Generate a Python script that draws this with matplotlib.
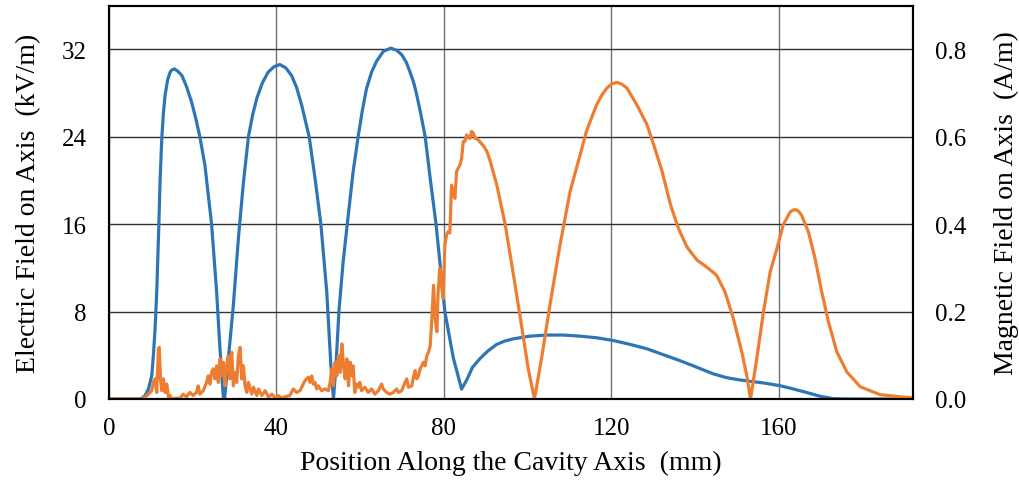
import numpy as np
import matplotlib
matplotlib.use('Agg')
from matplotlib import pyplot as plt

# electric field on axis (kV/m)
e_x = [0, 6.9, 7.8, 8.6, 9.4, 10.2, 10.6, 11.0, 11.4, 11.9, 12.2, 12.6, 13.0, 13.4, 14.0, 14.6,
       15.0, 15.6, 16.4, 17.4, 18.5, 19.7, 20.7, 21.7, 22.9, 24.5, 25.7, 26.5, 27.3, 27.6,
       28.5, 29.7, 30.9, 32.1, 33.3, 34.3, 35.3, 36.6, 38.0, 39.4, 40.8, 42.2, 43.6, 44.8,
       46.0, 47.8, 49.2, 50.6, 52.0, 53.0, 53.6, 54.2, 54.9, 55.9, 56.9, 58.3, 59.5, 60.5,
       61.5, 62.7, 63.9, 65.5, 67.3, 68.7, 69.9, 71.0, 71.9, 72.8, 73.5, 74.5, 75.5, 76.7,
       78.1, 80.2, 82.2, 84.2, 85.5, 86.8, 88.6, 90.5, 92.6, 94.5, 96.5, 100.5, 104.5, 108.5,
       112.5, 116.5, 120.4, 124.4, 128.4, 132.4, 136.4, 140.4, 144.3, 147.5, 150.7, 153.5,
       156.3, 160.2, 162.6, 165.0, 167.5, 169.8, 173.0, 178.0, 192.0]
e_val = [0, 0, 0.05, 0.3, 0.9, 2.1, 4.0, 6.4, 9.8, 15.9, 20.0, 23.8, 26.2, 27.8, 29.2, 29.9,
         30.1, 30.2, 30.0, 29.6, 28.6, 27.2, 25.7, 24.0, 21.4, 16.0, 9.8, 4.6, 0.2, 0.0,
         3.7, 8.6, 14.7, 19.8, 24.0, 26.0, 27.5, 28.9, 29.9, 30.4, 30.6, 30.3, 29.6, 28.5,
         26.9, 24.0, 20.2, 16.0, 9.8, 3.0, 0.0, 3.0, 8.0, 12.5, 16.0, 20.8, 24.0, 26.4,
         28.4, 29.9, 30.9, 31.8, 32.1, 31.9, 31.5, 30.8, 29.9, 28.9, 27.8, 26.0, 24.0, 20.2,
         16.0, 8.0, 3.8, 0.9, 1.8, 2.9, 3.7, 4.4, 5.0, 5.3, 5.5, 5.75, 5.85, 5.85,
         5.75, 5.6, 5.35, 5.0, 4.6, 4.05, 3.5, 2.9, 2.3, 1.95, 1.74, 1.6,
         1.47, 1.22, 1.0, 0.76, 0.5, 0.25, 0.03, 0, 0]

# magnetic field on axis (A/m)
h_x = [0, 7.8, 8.6, 9.4, 10.2, 10.6, 11.0, 11.4, 11.8, 12.0, 12.3, 12.6, 13.0, 13.4, 13.8,
       14.2, 14.6, 14.9, 16.0, 17.0, 17.7, 18.5, 19.3, 20.1, 20.9, 21.3, 21.7, 22.5, 23.3,
       23.7, 24.1, 24.5, 24.9, 25.3, 25.7, 26.1, 26.5, 26.9, 27.3, 27.7, 28.1, 28.5, 28.9,
       29.3, 29.7, 30.1, 30.5, 30.9, 31.3, 31.7, 32.1, 32.5, 32.9, 33.3, 34.1, 34.5, 35.3,
       35.7, 36.5, 37.3, 38.1, 38.9, 39.7, 40.4, 41.2, 42.0, 43.2, 44.0, 44.8, 45.6, 46.8,
       47.6, 48.0, 48.4, 48.8, 49.2, 49.6, 50.0, 50.8, 51.6, 52.4, 52.8, 53.2, 53.6, 54.0,
       54.4, 54.8, 55.2, 55.6, 56.0, 56.4, 56.8, 57.2, 57.6, 58.0, 58.3, 58.7, 59.1, 59.5,
       59.9, 60.3, 61.1, 61.9, 62.7, 63.5, 64.3, 65.1, 65.5, 66.3, 67.1, 67.9, 68.7, 69.1,
       69.9, 70.7, 71.1, 71.5, 72.3, 72.7, 73.1, 73.5, 73.9, 74.3, 75.1, 75.5, 75.9, 76.3,
       76.7, 77.1, 77.5, 77.9, 78.3, 78.6, 79.0, 79.4, 79.8, 80.2, 80.6, 81.0, 81.4, 81.8,
       82.1, 82.6, 83.0, 83.4, 83.8, 84.2, 84.6, 85.0, 85.4, 85.8, 86.2, 86.6, 87.0, 87.4,
       87.8, 88.6, 89.5, 90.3, 91.0, 92.6, 94.6, 96.6, 98.5, 100.1, 101.6, 103.3, 105.3, 107.7,
       110.1, 112.5, 114.0, 116.4, 117.7, 118.9, 120.1, 121.3, 122.5, 123.7, 126.1, 128.5,
       130.1, 132.1, 134.1, 136.0, 138.0, 140.4, 143.1, 145.1, 147.1, 149.1, 151.1, 152.3,
       153.2, 154.7, 156.3, 157.9, 159.5, 161.0, 162.6, 163.3, 164.1, 164.8, 165.4, 167.0,
       168.6, 170.2, 171.8, 173.8, 176.2, 179.4, 184.1, 188.9, 192.0]
h_val = [0, 0, 0.004, 0.011, 0.019, 0.038, 0.046, 0.015, 0.114, 0.118, 0.046, 0.019, 0.046, 0.015, 0.034,
         0.004, 0.008, 0, 0.002, 0.002, 0.011, 0.005, 0.015, 0.008, 0.015, 0.03, 0.011, 0.019, 0.038,
         0.053, 0.034, 0.061, 0.069, 0.046, 0.076, 0.038, 0.092, 0.053, 0.084, 0.03, 0.076, 0.099, 0.046,
         0.107, 0.03, 0.061, 0.038, 0.099, 0.118, 0.046, 0.076, 0.03, 0.015, 0.038, 0.011, 0.027, 0.008,
         0.023, 0.008, 0.019, 0.004, 0.011, 0.002, 0.008, 0.002, 0.005, 0.008, 0.023, 0.015, 0.019, 0.042,
         0.05, 0.038, 0.053, 0.034, 0.038, 0.023, 0.03, 0.019, 0.023, 0.019, 0.038, 0.069, 0.03, 0.084,
         0.053, 0.099, 0.061, 0.126, 0.076, 0.046, 0.092, 0.03, 0.084, 0.053, 0.076, 0.015, 0.034, 0.027,
         0.038, 0.019, 0.027, 0.015, 0.023, 0.011, 0.019, 0.034, 0.023, 0.015, 0.011, 0.015, 0.023, 0.015,
         0.019, 0.038, 0.046, 0.027, 0.03, 0.05, 0.065, 0.046, 0.053, 0.069, 0.084, 0.076, 0.099, 0.107,
         0.122, 0.184, 0.26, 0.184, 0.154, 0.246, 0.299, 0.26, 0.23, 0.35, 0.375, 0.383, 0.38, 0.489,
         0.475, 0.459, 0.52, 0.528, 0.535, 0.55, 0.589, 0.589, 0.604, 0.598, 0.596, 0.612, 0.608, 0.596,
         0.596, 0.588, 0.578, 0.565, 0.545, 0.49, 0.40, 0.283, 0.169, 0.07, 0, 0.093, 0.215, 0.352,
         0.474, 0.558, 0.612, 0.672, 0.695, 0.711, 0.721, 0.724, 0.72, 0.711, 0.672, 0.627,
         0.581, 0.52, 0.444, 0.39, 0.348, 0.318, 0.299, 0.283, 0.245, 0.184, 0.108, 0.054,
         0, 0.093, 0.2, 0.291, 0.344, 0.398, 0.427, 0.432, 0.433, 0.428, 0.42, 0.383,
         0.322, 0.245, 0.177, 0.108, 0.062, 0.028, 0.01, 0.005, 0.003]

x_ticks = [0, 40, 80, 120, 160]
e_ticks = [0, 8, 16, 24, 32]
h_ticks = [0.0, 0.2, 0.4, 0.6, 0.8]

plt.rcParams['font.family'] = ['Liberation Serif', 'DejaVu Serif']
plt.rcParams['font.size'] = 18

fig = plt.figure(figsize=(10.2, 4.85), dpi=100)
ax = fig.add_axes([109/1020, 1 - 400/485, 804/1020, 393.5/485])
ax2 = ax.twinx()

ax.plot(e_x, e_val, color='#2E75B6', lw=2.3, solid_joinstyle='round')
ax2.plot(h_x, h_val, color='#ED7D31', lw=2.3, solid_joinstyle='round')

ax.set_xlim(0, 192)
ax.set_ylim(0, 36)
ax2.set_ylim(0, 0.9)
ax.set_xticks(x_ticks)
ax.set_yticks(e_ticks)
ax2.set_yticks(h_ticks)
ax2.set_yticklabels(['%.1f' % v for v in h_ticks])

ax.yaxis.grid(True, color='#303030', lw=1)
ax.xaxis.grid(True, color='#707070', lw=1)
ax.set_axisbelow(True)

ax.tick_params(axis='x', length=0, pad=13)
ax.tick_params(axis='y', length=0, pad=16)
ax2.tick_params(axis='y', length=0, pad=16)

for a in (ax, ax2):
    for s in a.spines.values():
        s.set_color('black')
        s.set_linewidth(1.5)

ax.set_xlabel('Position Along the Cavity Axis  (mm)', fontsize=20)
ax.set_ylabel('Electric Field on Axis  (kV/m)', fontsize=20)
ax2.set_ylabel('Magnetic Field on Axis  (A/m)', fontsize=20)
ax.xaxis.set_label_coords(0.5, -0.13)
ax.yaxis.set_label_coords(-0.085, 0.5)
ax2.yaxis.set_label_coords(1.1, 0.5)

fig.savefig('out.png', dpi=100)
